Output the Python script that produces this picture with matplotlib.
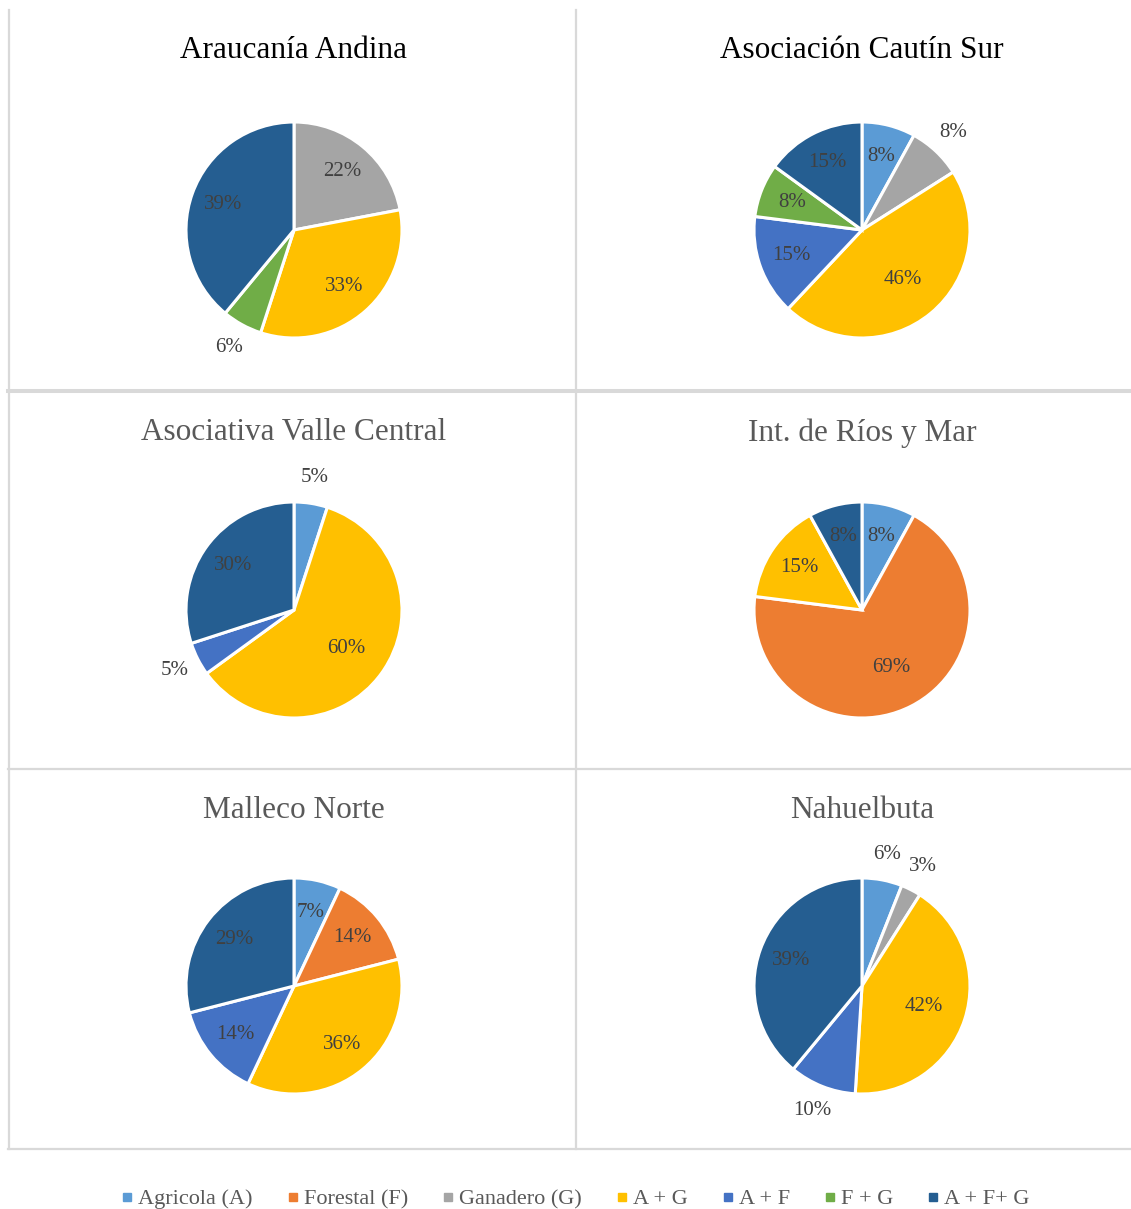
import numpy as np
import matplotlib.pyplot as plt
from matplotlib.lines import Line2D

plt.rcParams['font.family'] = ['Liberation Serif', 'DejaVu Serif']

W, H = 1131, 1209

categories = ['Agricola (A)', 'Forestal (F)', 'Ganadero (G)', 'A + G', 'A + F', 'F + G', 'A + F+ G']
colors = ['#5B9BD5', '#ED7D31', '#A5A5A5', '#FFC000', '#4472C4', '#70AD47', '#255E91']

titles = ['Araucanía Andina', 'Asociación Cautín Sur', 'Asociativa Valle Central',
          'Int. de Ríos y Mar', 'Malleco Norte', 'Nahuelbuta']

# percentages per category (same order as categories)
araucania = [0, 0, 22, 33, 0, 6, 39]
cautin = [8, 0, 8, 46, 15, 8, 15]
valle_central = [5, 0, 0, 60, 5, 0, 30]
rios_mar = [8, 69, 0, 15, 0, 0, 8]
malleco = [7, 14, 0, 36, 14, 0, 29]
nahuelbuta = [6, 0, 3, 42, 10, 0, 39]

series = [araucania, cautin, valle_central, rios_mar, malleco, nahuelbuta]

# which category labels sit outside the pie (Excel "best fit")
outside = [{5}, {2}, {0, 4}, set(), set(), {0, 2, 4}]

# layout in pixels
centers = [(294, 230), (862, 230), (294, 610), (862, 610), (294, 986), (862, 986)]
title_y = [48, 48, 431, 431, 809, 809]
title_colors = ['black', 'black', '#595959', '#595959', '#595959', '#595959']
radius = 108
half = 150

fig = plt.figure(figsize=(W / 100, H / 100), dpi=100)


def fx(x):
    return x / W


def fy(y):
    return 1 - y / H


for i in range(6):
    cx, cy = centers[i]
    ax = fig.add_axes([fx(cx - half), fy(cy + half), 2 * half / W, 2 * half / H])
    vals = series[i]
    idx = [k for k in range(len(vals)) if vals[k] > 0]
    wedges, _ = ax.pie([vals[k] for k in idx], colors=[colors[k] for k in idx],
                       startangle=90, counterclock=False, radius=1,
                       wedgeprops=dict(edgecolor='white', linewidth=2.2))
    for w, k in zip(wedges, idx):
        mid = np.deg2rad((w.theta1 + w.theta2) / 2)
        if k in outside[i]:
            d = 1.24
        elif vals[k] >= 40:
            d = 0.6
        else:
            d = 0.7
        ax.text(d * np.cos(mid), d * np.sin(mid), f'{vals[k]}%', ha='center', va='center',
                fontsize=15, color='#404040')
    lim = half / radius
    ax.set_xlim(-lim, lim)
    ax.set_ylim(-lim, lim)
    ax.set_aspect('equal')
    ax.axis('off')
    fig.text(fx(cx), fy(title_y[i] + 2), titles[i], ha='center', va='center',
             fontsize=22.5, color=title_colors[i])

# panel borders
grid_color = '#D9D9D9'
fig.add_artist(Line2D([fx(9), fx(9)], [fy(10), fy(1149)], color=grid_color, lw=1.6))
fig.add_artist(Line2D([fx(576), fx(576)], [fy(10), fy(1149)], color=grid_color, lw=1.6))
fig.add_artist(Line2D([fx(8), fx(W)], [fy(390.5), fy(390.5)], color=grid_color, lw=2.9))
fig.add_artist(Line2D([fx(8), fx(W)], [fy(768.5), fy(768.5)], color=grid_color, lw=1.6))
fig.add_artist(Line2D([fx(8), fx(W)], [fy(1148.5), fy(1148.5)], color=grid_color, lw=1.6))

handles = [Line2D([], [], marker='s', linestyle='none', markersize=6,
                  markerfacecolor=c, markeredgecolor=c) for c in colors]
fig.legend(handles, categories, loc='center', bbox_to_anchor=(fx(575), fy(1199)),
           ncol=7, frameon=False, fontsize=16, handlelength=0.6, handletextpad=0.2,
           columnspacing=1.5, labelcolor='#595959')

fig.savefig('out.png', dpi=100, facecolor='white')
